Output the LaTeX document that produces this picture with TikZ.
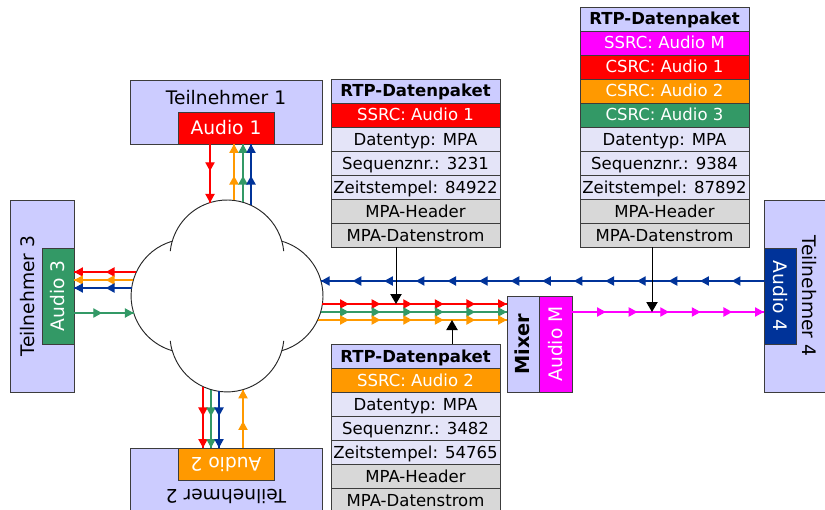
\documentclass[tikz,border=0pt]{standalone}
\usepackage{fontspec}
\setmainfont{DejaVu Sans}
\usepackage{xcolor}
\definecolor{colorr}{RGB}{255,0,0}
\definecolor{coloro}{RGB}{255,153,0}
\definecolor{colorg}{RGB}{51,153,102}
\definecolor{colorb}{RGB}{0,51,153}
\definecolor{colorm}{RGB}{255,0,255}
\definecolor{colorl}{RGB}{204,204,255}
\definecolor{colorp}{RGB}{228,228,248}
\definecolor{colorh}{RGB}{216,216,216}
\definecolor{colorn}{RGB}{60,60,60}
\usepackage{tikz}
\usetikzlibrary{arrows.meta,decorations.markings}
\tikzstyle{part} = [draw=colorn, fill=colorl, inner sep=0pt, minimum width=144pt, minimum height=48pt]
\tikzstyle{partname} = [inner sep=0pt, text height=10.2pt, text depth=0pt, font=\fontsize{14}{16}\selectfont]
\tikzstyle{audio} = [draw=colorn, inner sep=0pt, text=white, text height=10.2pt, text depth=0pt, font=\fontsize{14}{16}\selectfont, minimum width=72pt, minimum height=24pt]
\tikzstyle{row} = [draw=colorn, fill=colorp, inner sep=0pt, minimum width=126.75pt, minimum height=18pt, text height=9pt, text depth=0pt, font=\fontsize{12.4}{14}\selectfont]
\tikzstyle{rowT} = [row, fill=colorl, font=\fontsize{12.4}{14}\selectfont\bfseries]
\tikzstyle{rowR} = [row, fill=colorr, text=white]
\tikzstyle{rowO} = [row, fill=coloro, text=white]
\tikzstyle{rowG} = [row, fill=colorg, text=white]
\tikzstyle{rowM} = [row, fill=colorm, text=white]
\tikzstyle{rowH} = [row, fill=colorh]
\tikzstyle{flow} = [line width=0.85pt, postaction={decorate}, decoration={markings, reverse path, mark=between positions 0 and 1 step 23.7pt with {\arrowreversed{Triangle[length=6.5pt,width=7pt]}}}]
\tikzstyle{tag} = [draw=black, line width=0.75pt, -{Triangle[length=7.5pt,width=8.5pt]}]
\tikzstyle{cloud} = [draw=black!85, fill=white, line width=0.7pt]

\begin{document}
\begin{tikzpicture}[x=0.75pt, y=-0.75pt]
    \useasboundingbox (0,0) rectangle (825,510);

    % cloud
    \coordinate (cul) at (172.2,241.2);
    \coordinate (cur) at (281.8,241.2);
    \coordinate (cll) at (172.2,350.8);
    \coordinate (clr) at (281.8,350.8);
    \draw[cloud] (cur) arc[start angle=16.1, end angle=163.9, radius=42.75pt]
        arc[start angle=106.1, end angle=253.9, radius=42.75pt]
        arc[start angle=196.1, end angle=343.9, radius=42.75pt]
        arc[start angle=-73.9, end angle=73.9, radius=42.75pt] -- cycle;
    \draw[cloud] (cul) arc[start angle=163.9, end angle=174, radius=42.75pt];
    \draw[cloud] (cur) arc[start angle=16.1, end angle=6, radius=42.75pt];
    \draw[cloud] (cll) arc[start angle=196.1, end angle=186, radius=42.75pt];
    \draw[cloud] (clr) arc[start angle=343.9, end angle=354, radius=42.75pt];

    % participants
    \node[part] (t1) at (226,112) {};
    \node[audio, fill=colorr] (a1) at (226,128) {Audio 1};
    \node[partname] (n1) at (226,97.5) {Teilnehmer 1};

    \node[part, rotate=180] (t2) at (226,480) {};
    \node[audio, fill=coloro, rotate=180] (a2) at (226,464) {Audio 2};
    \node[partname, rotate=180] (n2) at (226,496) {Teilnehmer 2};

    \node[part, rotate=90] (t3) at (42,296) {};
    \node[audio, fill=colorg, rotate=90] (a3) at (58,296) {Audio 3};
    \node[partname, rotate=90] (n3) at (28,296) {Teilnehmer 3};

    \node[part, rotate=-90] (t4) at (796,296) {};
    \node[audio, fill=colorb, rotate=-90] (a4) at (780,296) {Audio 4};
    \node[partname, rotate=-90] (n4) at (809,296) {Teilnehmer 4};

    \node[audio, fill=colorl, text=black, font=\fontsize{14.5}{16}\selectfont\bfseries, rotate=90] (mx) at (523,344) {Mixer};
    \node[audio, fill=colorm, minimum height=24.75pt, rotate=90] (am) at (555.5,344) {Audio M};

    % packets
    \node[rowT] (p1a) at (415.5,91) {RTP-Datenpaket};
    \node[rowR] (p1b) at (415.5,115) {SSRC: Audio 1};
    \node[row] (p1c) at (415.5,139) {Datentyp: MPA};
    \node[row] (p1d) at (415.5,163) {Sequenznr.: 3231};
    \node[row] (p1e) at (415.5,187) {Zeitstempel: 84922};
    \node[rowH] (p1f) at (415.5,211) {MPA-Header};
    \node[rowH] (p1g) at (415.5,235) {MPA-Datenstrom};

    \node[rowT] (p2a) at (415.5,356) {RTP-Datenpaket};
    \node[rowO] (p2b) at (415.5,380) {SSRC: Audio 2};
    \node[row] (p2c) at (415.5,404) {Datentyp: MPA};
    \node[row] (p2d) at (415.5,428) {Sequenznr.: 3482};
    \node[row] (p2e) at (415.5,452) {Zeitstempel: 54765};
    \node[rowH] (p2f) at (415.5,476) {MPA-Header};
    \node[rowH] (p2g) at (415.5,500) {MPA-Datenstrom};

    \node[rowT] (pma) at (664.5,19) {RTP-Datenpaket};
    \node[rowM] (pmb) at (664.5,43) {SSRC: Audio M};
    \node[rowR] (pmc) at (664.5,67) {CSRC: Audio 1};
    \node[rowO] (pmd) at (664.5,91) {CSRC: Audio 2};
    \node[rowG] (pme) at (664.5,115) {CSRC: Audio 3};
    \node[row] (pmf) at (664.5,139) {Datentyp: MPA};
    \node[row] (pmg) at (664.5,163) {Sequenznr.: 9384};
    \node[row] (pmh) at (664.5,187) {Zeitstempel: 87892};
    \node[rowH] (pmi) at (664.5,211) {MPA-Header};
    \node[rowH] (pmj) at (664.5,235) {MPA-Datenstrom};

    % cloud edge points
    \coordinate (c1r) at (210,202.6);
    \coordinate (c1o) at (234,200.4);
    \coordinate (c1g) at (243,202.3);
    \coordinate (c1b) at (251,205.3);
    \coordinate (c2r) at (203,386.7);
    \coordinate (c2g) at (211,389.7);
    \coordinate (c2b) at (219,391.4);
    \coordinate (c2o) at (243,389.7);
    \coordinate (c3r) at (136.3,272);
    \coordinate (c3o) at (133.3,280);
    \coordinate (c3b) at (131.6,288);
    \coordinate (c3g) at (133.6,313);
    \coordinate (c4b) at (321,281);
    \coordinate (c4r) at (322.4,304);
    \coordinate (c4g) at (320.7,312);
    \coordinate (c4o) at (317.7,320);
    \coordinate (j1) at (396,304);
    \coordinate (j2) at (452,320);
    \coordinate (jm) at (652,312);

    \draw[flow, color=colorr] (a1.south -| c1r) -- (c1r);
    \draw[flow, color=coloro] (c1o) -- (a1.south -| c1o);
    \draw[flow, color=colorg] (c1g) -- (a1.south -| c1g);
    \draw[flow, color=colorb] (c1b) -- (a1.south -| c1b);

    \draw[flow, color=colorr] (c2r) -- (a2.south -| c2r);
    \draw[flow, color=colorg] (c2g) -- (a2.south -| c2g);
    \draw[flow, color=colorb] (c2b) -- (a2.south -| c2b);
    \draw[flow, color=coloro] (a2.south -| c2o) -- (c2o);

    \draw[flow, color=colorr] (c3r) -- (a3.south |- c3r);
    \draw[flow, color=coloro] (c3o) -- (a3.south |- c3o);
    \draw[flow, color=colorb] (c3b) -- (a3.south |- c3b);
    \draw[flow, color=colorg] (a3.south |- c3g) -- (c3g);

    \draw[flow, color=colorb] (a4.south |- c4b) -- (c4b);
    \draw[flow, color=colorr] (c4r) -- (mx.north |- c4r);
    \draw[flow, color=colorg] (c4g) -- (mx.north |- c4g);
    \draw[flow, color=coloro] (c4o) -- (mx.north |- c4o);
    \draw[flow, color=colorm] (am.south |- jm) -- (a4.south |- jm);

    \draw[tag] (p1g.south -| j1) -- (j1);
    \draw[tag] (p2a.north -| j2) -- (j2);
    \draw[tag] (pmj.south -| jm) -- (jm);
\end{tikzpicture}
\end{document}
